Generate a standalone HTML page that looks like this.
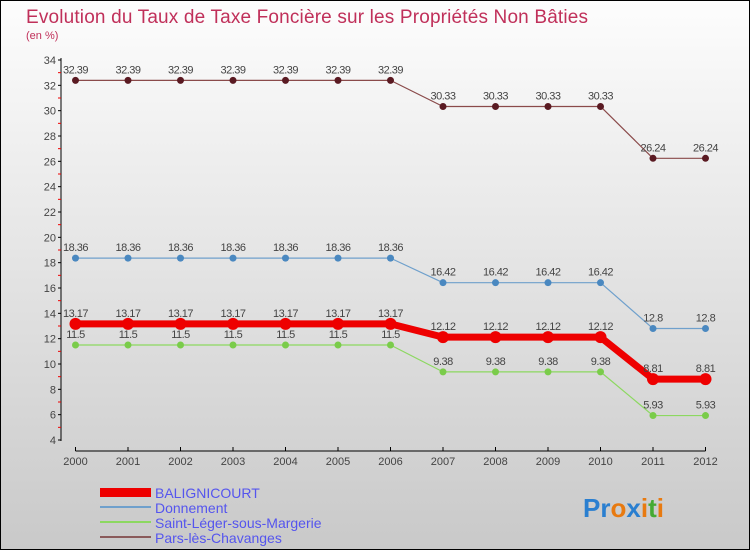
<!DOCTYPE html>
<html><head><meta charset="utf-8"><style>
body{margin:0}
#c{width:748px;height:548px;border:1px solid #000;background:linear-gradient(#fdfdfd,#c9c9c9);position:relative;font-family:"Liberation Sans",sans-serif}
</style></head><body>
<div id="c">
<svg id="s" width="748" height="548" viewBox="1 1 748 548" style="position:absolute;left:0;top:0">
<text x="26" y="23" font-size="19" fill="#c0305a" textLength="562">Evolution du Taux de Taxe Foncière sur les Propriétés Non Bâties</text>
<text x="26" y="39" font-size="11" fill="#c0305a">(en %)</text>
<g id="g"></g>
<g>
<rect x="100" y="488" width="51" height="9" fill="#e00"/>
<text x="155" y="498" font-size="14" fill="#55e">BALIGNICOURT</text>
<rect x="100" y="506" width="51" height="2" fill="#6fa0cc"/>
<text x="155" y="513" font-size="14" fill="#55e">Donnement</text>
<rect x="100" y="521" width="51" height="2" fill="#8cd860"/>
<text x="155" y="528" font-size="14" fill="#55e">Saint-Léger-sous-Margerie</text>
<rect x="100" y="536" width="51" height="2" fill="#8a5a5a"/>
<text x="155" y="543" font-size="14" fill="#55e">Pars-lès-Chavanges</text>
</g>
<text x="583" y="517" font-size="26" font-weight="bold"><tspan fill="#2a7fd0">Pr</tspan><tspan fill="#e87a10">o</tspan><tspan fill="#2a7fd0">x</tspan><tspan fill="#e87a10">i</tspan><tspan fill="#44aa33">t</tspan><tspan fill="#e87a10">i</tspan></text>
</svg>
</div>
<script>
const years=[2000,2001,2002,2003,2004,2005,2006,2007,2008,2009,2010,2011,2012];
const yTicks=[4,6,8,10,12,14,16,18,20,22,24,26,28,30,32,34];
const pars=[32.39,32.39,32.39,32.39,32.39,32.39,32.39,30.33,30.33,30.33,30.33,26.24,26.24];
const donnement=[18.36,18.36,18.36,18.36,18.36,18.36,18.36,16.42,16.42,16.42,16.42,12.8,12.8];
const balignicourt=[13.17,13.17,13.17,13.17,13.17,13.17,13.17,12.12,12.12,12.12,12.12,8.81,8.81];
const saintLeger=[11.5,11.5,11.5,11.5,11.5,11.5,11.5,9.38,9.38,9.38,9.38,5.93,5.93];
const NS="http://www.w3.org/2000/svg";
const g=document.getElementById('g');
const X=i=>75.5+i*52.5;
const Y=v=>440-(v-4)*(380/30);
function el(t,a,p){const e=document.createElementNS(NS,t);for(const k in a)e.setAttribute(k,a[k]);(p||g).appendChild(e);return e;}
let ax=el('line',{x1:61,y1:58,x2:61,y2:441,stroke:'#000','stroke-width':1});


let bx=el('line',{x1:75.5,y1:451,x2:705.5,y2:451,stroke:'#000','stroke-width':1});


yTicks.forEach((v,i)=>{
 el('line',{x1:58,x2:61,y1:Y(v),y2:Y(v),stroke:'#000'});
 if(i<yTicks.length-1)el('line',{x1:58,x2:61,y1:Y(v+1),y2:Y(v+1),stroke:'#e00'});
 const t=el('text',{x:56,y:Y(v)+4,'font-size':11,fill:'#444','text-anchor':'end'});
 t.textContent=v;
 
 
});
years.forEach((yr,i)=>{
 el('line',{x1:X(i),x2:X(i),y1:447,y2:451,stroke:'#000'});
 const t=el('text',{x:X(i),y:465,'font-size':11,fill:'#444','text-anchor':'middle'});
 t.textContent=yr;
 
 
});
function series(data,color,dot,w,r,name){
 const p=el('polyline',{points:data.map((v,i)=>X(i)+','+Y(v)).join(' '),fill:'none',stroke:color,'stroke-width':w,'stroke-linejoin':'round'});
 
 
 data.forEach((v,i)=>{
  const c=el('circle',{cx:X(i),cy:Y(v),r:r,fill:dot});
  
  
  const t=el('text',{x:X(i),y:Y(v)-7,'font-size':11,fill:'#444','text-anchor':'middle','letter-spacing':'-0.5'});
  t.textContent=v;
  
  
 });
}
series(pars,'#8a4a4a','#5a1a22',1.2,3.5,'pars');
series(donnement,'#6fa0cc','#4a88c0',1.2,3.5,'donnement');
series(saintLeger,'#8cd860','#7acc4a',1.2,3.5,'saint-leger');
series(balignicourt,'#ee0000','#ee0000',7,6,'balignicourt');
</script>
</body></html>
